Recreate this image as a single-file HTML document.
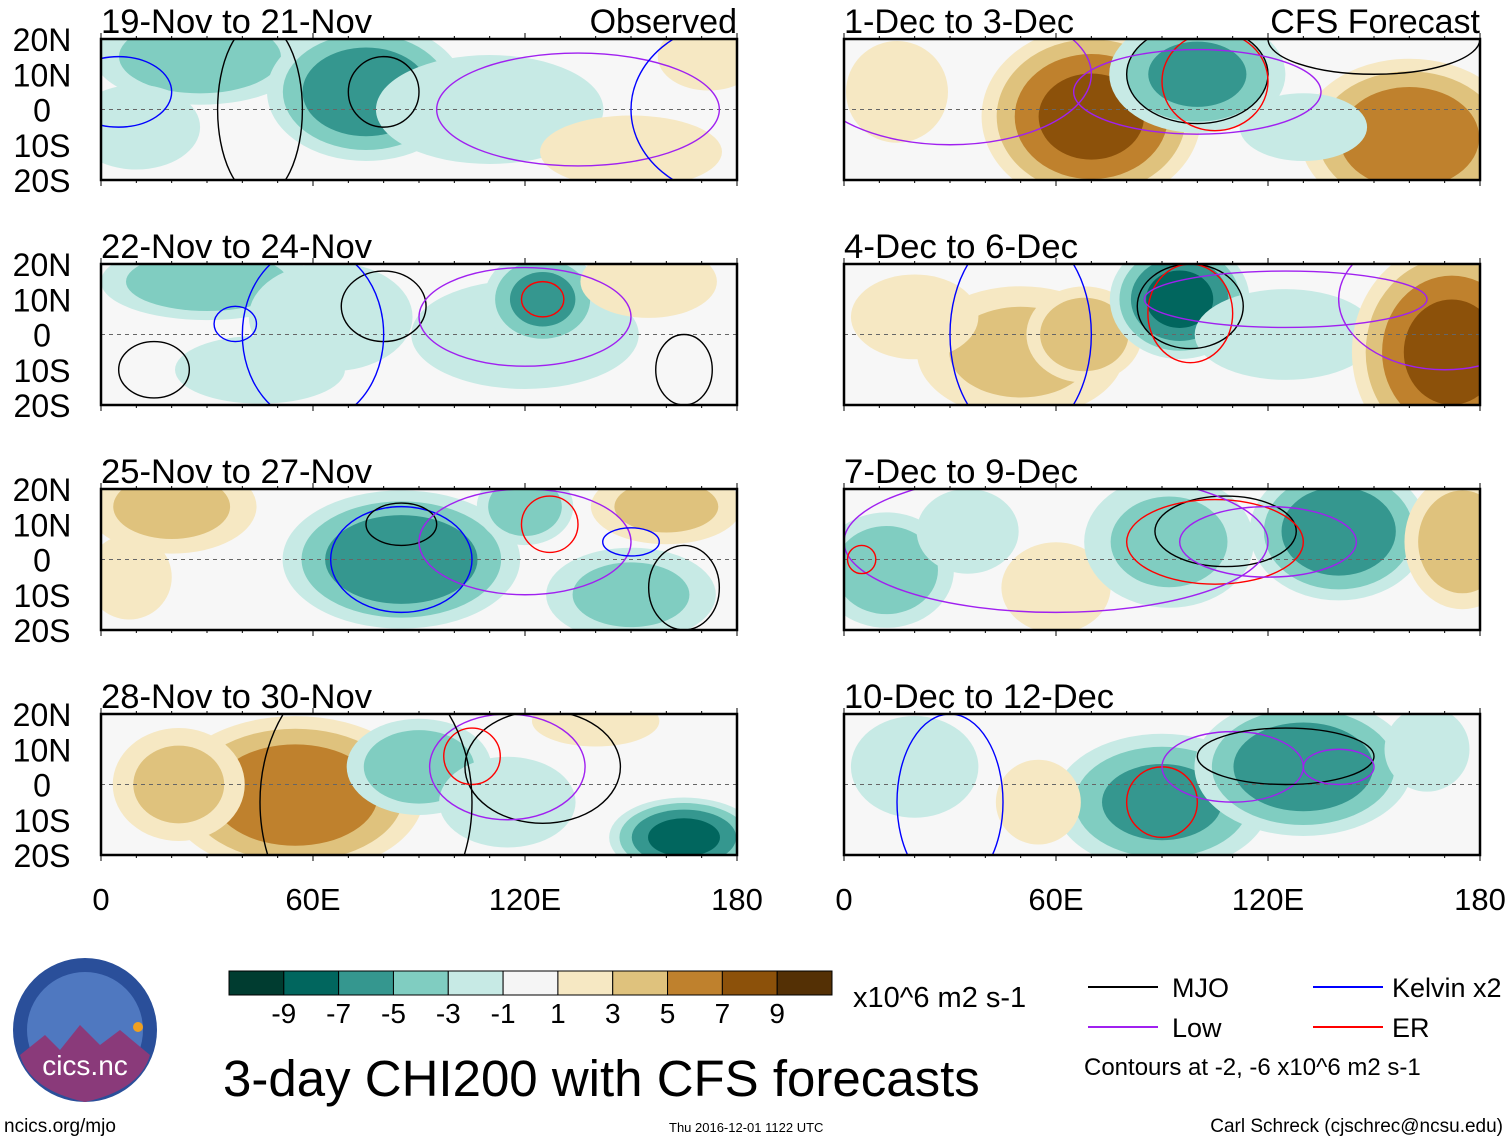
<!DOCTYPE html>
<html><head><meta charset="utf-8"><style>
body{margin:0;background:#fff;width:1510px;height:1142px;overflow:hidden;font-family:"Liberation Sans",sans-serif}
svg{position:absolute;left:0;top:0}
</style></head><body>
<svg id="fig" width="1510" height="1142" xmlns="http://www.w3.org/2000/svg" font-family="Liberation Sans, sans-serif"></svg>
<script>
// ---- data ----
const panelTitles = ["19-Nov to 21-Nov","1-Dec to 3-Dec","22-Nov to 24-Nov","4-Dec to 6-Dec","25-Nov to 27-Nov","7-Dec to 9-Dec","28-Nov to 30-Nov","10-Dec to 12-Dec"];
// anomaly blobs per panel: [lon, lat, value, lonRadius, latRadius]
const blobs0 = [[28,15,-5,22,10],[75,5,-7,20,14],[110,0,-3,25,12],[150,-12,3,20,8],[172,15,2,12,8],[10,-5,-2,15,10]];
const blobs1 = [[70,-2,8,22,18],[100,10,-6,18,12],[160,-8,7,22,16],[15,5,2,12,12],[130,-5,-2,15,8]];
const blobs2 = [[30,15,-5,22,8],[65,5,-3,18,12],[120,0,-3,25,12],[125,10,-6,12,10],[155,15,3,15,8],[45,-10,-2,20,8]];
const blobs3 = [[50,-5,4,22,14],[68,0,5,12,10],[95,10,-8,14,12],[125,0,-3,20,10],[172,-5,8,20,22],[20,5,2,15,10]];
const blobs4 = [[20,15,4,18,10],[85,0,-7,24,14],[120,15,-5,10,8],[150,-10,-4,18,10],[160,15,4,16,8],[8,-5,2,10,10]];
const blobs5 = [[12,-3,-5,14,12],[60,-8,3,12,10],[92,5,-4,18,14],[140,8,-7,18,14],[175,5,5,12,14],[35,8,-2,12,10]];
const blobs6 = [[55,-3,7,26,16],[22,0,4,14,12],[90,5,-5,15,10],[165,-15,-8,15,8],[115,-5,-3,15,10],[140,18,2,15,6]];
const blobs7 = [[90,-5,-6,22,14],[130,5,-7,22,14],[55,-5,2,10,10],[20,5,-2,15,12],[165,10,-2,10,10]];
const panelBlobs = [blobs0,blobs1,blobs2,blobs3,blobs4,blobs5,blobs6,blobs7];
// contour lines: [lon, lat, lonRadius, latRadius, type]
const contours = [
 [[80,5,10,10,'mjo'],[45,0,12,25,'mjo'],[135,0,40,16,'low'],[5,5,15,10,'kelvin'],[180,0,30,25,'kelvin']],
 [[100,10,20,14,'mjo'],[105,8,15,14,'er'],[100,5,35,12,'low'],[150,20,30,10,'mjo'],[30,10,40,20,'low']],
 [[15,-10,10,8,'mjo'],[80,8,12,10,'mjo'],[38,3,6,5,'kelvin'],[125,10,6,5,'er'],[120,5,30,14,'low'],[165,-10,8,10,'mjo'],[60,0,20,25,'kelvin']],
 [[98,8,15,12,'mjo'],[98,6,12,14,'er'],[125,10,40,8,'low'],[50,0,20,30,'kelvin'],[170,10,30,20,'low']],
 [[85,0,20,15,'kelvin'],[85,10,10,6,'mjo'],[127,10,8,8,'er'],[120,5,30,15,'low'],[165,-8,10,12,'mjo'],[150,5,8,4,'kelvin']],
 [[108,8,20,10,'mjo'],[105,5,25,12,'er'],[120,5,25,10,'low'],[60,5,60,20,'low'],[5,0,4,4,'er']],
 [[125,5,22,16,'mjo'],[115,5,22,15,'low'],[105,8,8,8,'er'],[75,-5,30,40,'mjo']],
 [[90,-5,10,10,'er'],[110,5,20,10,'low'],[125,8,25,8,'mjo'],[30,-5,15,25,'kelvin'],[140,5,10,5,'low']]
];
const latTicks = ["20N","10N","0","10S","20S"];
const latValues = [20,10,0,-10,-20];
const lonTicks = ["0","60E","120E","180"];
const lonValues = [0,60,120,180];
const cbLabels = ["-9","-7","-5","-3","-1","1","3","5","7","9"];
const cbColors = ["#003c30","#01665e","#35978f","#80cdc1","#c7eae5","#f5f5f5","#f6e8c3","#dfc27d","#bf812d","#8c510a","#543005"];
// ---- layout ----
const svg=document.getElementById('fig');const NS='http://www.w3.org/2000/svg';
function mk(tag,attrs,parent){const e=document.createElementNS(NS,tag);for(const k in attrs)e.setAttribute(k,attrs[k]);(parent||svg).appendChild(e);return e;}
const colX=[101,844], W=636, rowY=[39,264,489,714], H=141;
function colorFor(v){const idx=Math.max(0,Math.min(10,Math.floor((v+11)/2)));return cbColors[idx];}
panelBlobs.forEach((bl,p)=>{
 const x0=colX[p%2], y0=rowY[Math.floor(p/2)];
 const xs=lon=>x0+lon/180*W, ys=lat=>y0+(20-lat)/40*H;
 const g=mk('g',{});
 const cp=mk('clipPath',{id:'cp'+p},g);mk('rect',{x:x0,y:y0,width:W,height:H},cp);
 const inner=mk('g',{'clip-path':'url(#cp'+p+')'},g);
 mk('rect',{x:x0,y:y0,width:W,height:H,fill:'#f7f7f7'},inner);
 bl.forEach(b=>{const[lon,lat,v,rx,ry]=b;const s=Math.sign(v),a=Math.abs(v);
  for(let lv=1;lv<a;lv+=2){const f=Math.sqrt(1-lv/(a+0.8));
   const e=mk('ellipse',{cx:xs(lon),cy:ys(lat),rx:rx*f*W/180*1.5,ry:ry*f*H/40*1.5,fill:colorFor(s*(lv+1))},inner);
   }
 });
 mk('line',{x1:x0,x2:x0+W,y1:ys(0),y2:ys(0),stroke:'#666','stroke-dasharray':'4,4','stroke-width':1},inner);
 const cc={mjo:'#000',low:'#a020f0',kelvin:'#0000ff',er:'#ff0000'};
 contours[p].forEach(c=>{const e=mk('ellipse',{cx:xs(c[0]),cy:ys(c[1]),rx:c[2]*W/180,ry:c[3]*H/40,fill:'none',stroke:cc[c[4]],'stroke-width':1.4},inner);
  });
 mk('rect',{x:x0,y:y0,width:W,height:H,fill:'none',stroke:'#000','stroke-width':2.5},g);
 for(let lon=0;lon<=180;lon+=10){const L=lon%60==0?6:3;mk('line',{x1:xs(lon),x2:xs(lon),y1:y0,y2:y0-L,stroke:'#000'},g);mk('line',{x1:xs(lon),x2:xs(lon),y1:y0+H,y2:y0+H+L,stroke:'#000'},g);}
 const t=mk('text',{x:x0,y:y0-6,'font-size':34,textLength:p%2==0?271:(p==1?230:(p==3?234:(p==5?234:270))),lengthAdjust:'spacingAndGlyphs'},g);t.textContent=panelTitles[p];
 if(p<2){const t2=mk('text',{x:x0+W,y:y0-6,'font-size':34,'text-anchor':'end'},g);t2.textContent=p==0?'Observed':'CFS Forecast';}
 if(p%2==0){latTicks.forEach((l,i)=>{const t=mk('text',{x:42,y:ys(latValues[i])+12,'font-size':32,'text-anchor':'middle'},g);t.textContent=l;});}
 if(p>=6){lonTicks.forEach((l,i)=>{const t=mk('text',{x:xs(lonValues[i]),y:910,'font-size':31,'text-anchor':'middle'},g);t.textContent=l;});}
});
// colorbar
const cb=mk('g',{});
const cbx=229,cbw=603/11;
cbColors.forEach((c,i)=>mk('rect',{x:cbx+i*cbw,y:971,width:cbw,height:24,fill:c,stroke:'#000','stroke-width':1},cb));
cbLabels.forEach((l,i)=>{const t=mk('text',{x:cbx+(i+1)*cbw,y:1023,'font-size':28,'text-anchor':'middle'},cb);t.textContent=l;});
function txt(x,y,s,str,name,anchor){const t=mk('text',{x:x,y:y,'font-size':s,'text-anchor':anchor||'start'});t.textContent=str;return t;}
txt(853,1007,29,'x10^6 m2 s-1','colorbar-units');
txt(223,1096,51,'3-day CHI200 with CFS forecasts','figure-title');
// legend
const lg=[[1088,987,'#000','MJO',1172],[1313,987,'#0000ff','Kelvin x2',1392],[1088,1027,'#a020f0','Low',1172],[1313,1027,'#ff0000','ER',1392]];
lg.forEach(l=>{const e=mk('line',{x1:l[0],x2:l[0]+70,y1:l[1],y2:l[1],stroke:l[2],'stroke-width':2});txt(l[4],l[1]+10,27,l[3],'legend-label');});
txt(1084,1075,24,'Contours at -2, -6 x10^6 m2 s-1','contour-note');
txt(4,1132,19,'ncics.org/mjo','website-link');
txt(669,1132,13,'Thu 2016-12-01 1122 UTC','timestamp');
txt(1503,1132,19,'Carl Schreck (cjschrec@ncsu.edu)','author','end');
// logo
const lgG=mk('g',{});
mk('circle',{cx:85,cy:1030,r:72,fill:'#2a4f9a'},lgG);
mk('circle',{cx:85,cy:1030,r:58,fill:'#4f78c0'},lgG);
mk('path',{d:'M20 1055 L45 1035 L60 1050 L80 1025 L100 1045 L120 1030 L150 1055 Q140 1090 85 1102 Q30 1090 20 1055Z',fill:'#8a3a7a'},lgG);
const lt=mk('text',{x:85,y:1075,'font-size':28,'text-anchor':'middle',fill:'#fff'},lgG);lt.textContent='cics.nc';
mk('circle',{cx:138,cy:1027,r:5,fill:'#f0a020'},lgG);
</script>
</body></html>
